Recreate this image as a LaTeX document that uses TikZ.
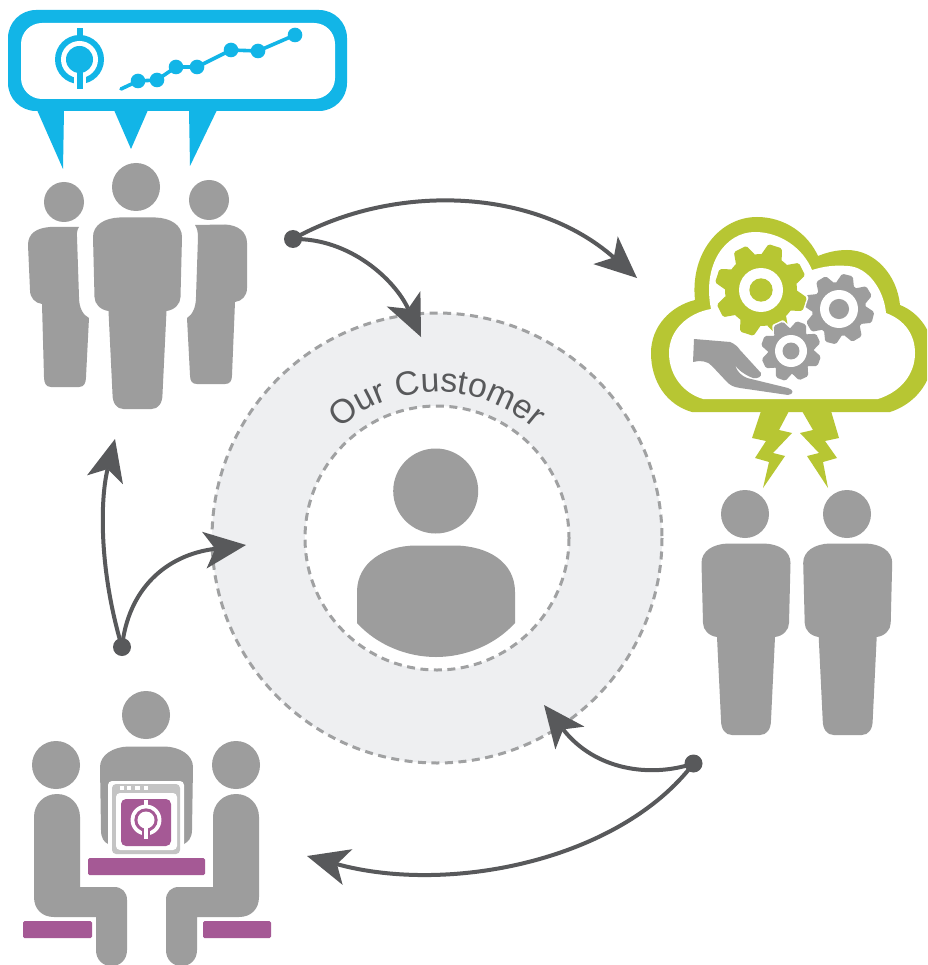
\documentclass[tikz,border=0pt]{standalone}
\usepackage{fontspec}
\usetikzlibrary{arrows.meta,decorations.text}
\newfontfamily\ocfont{Liberation Sans}
\definecolor{figgray}{HTML}{9D9D9D}
\definecolor{skyb}{HTML}{12B5E7}
\definecolor{olivec}{HTML}{B7C633}
\definecolor{purp}{HTML}{A55995}
\definecolor{ringfill}{HTML}{EEEFF1}
\definecolor{conn}{HTML}{58595B}
\definecolor{dashg}{HTML}{A0A1A2}
\definecolor{lightg}{HTML}{C4C4C4}
\tikzset{
  connector/.style={color=conn,draw=conn,line width=4pt,-{Stealth[length=42pt,width=37pt,inset=11pt,line width=0pt,fill=conn]}},
  dotnode/.style={circle,fill=conn,inner sep=0pt,minimum size=18pt},
  ringline/.style={draw=dashg,line width=3pt,dash pattern=on 8pt off 5.5pt},
  figure/.style={fill=figgray}
}
% standing person: cx, top of the body
\newcommand{\standperson}[2]{%
  \fill[figure,shift={(#1,#2)}] (-44.5,20) .. controls (-44.5,8) and (-33,1) .. (-18,.5)
    -- (18,.5) .. controls (33,1) and (44.5,8) .. (44.5,20)
    -- (43,80) .. controls (43,87) and (37,93) .. (29,94)
    -- (25,177) .. controls (25,186) and (21,192) .. (14,192)
    -- (-14,192) .. controls (-21,192) and (-25,186) .. (-25,177)
    -- (-29,94) .. controls (-37,93) and (-43,87) .. (-43,80) -- cycle;}
% gear: cx, cy, tip radius, root radius, tip half width, rotation, colour, halo, ring radius
\newcommand{\cogwheel}[9]{%
  \begin{scope}[shift={(#1,#2)}]
    \foreach \a in {0,45,...,315}{
      \filldraw[draw=white,line width=#8,fill=white,rotate=-#6-\a,line join=round]
        (-#5-4,-#4+3) -- (-#5,-#3) -- (#5,-#3) -- (#5+4,-#4+3) -- cycle;}
    \filldraw[draw=white,line width=#8,fill=white] (0,0) circle[radius=#4];
    \foreach \a in {0,45,...,315}{
      \fill[#7,rotate=-#6-\a,rounded corners=1.6pt]
        (-#5-4,-#4+3) -- (-#5,-#3) -- (#5,-#3) -- (#5+4,-#4+3) -- cycle;}
    \fill[#7] (0,0) circle[radius=#4];
    \fill[white] (0,0) circle[radius=#9];
    \fill[#7] (0,0) circle[radius=#9*0.53];
  \end{scope}}
% mark: cx, cy, scale, foreground, background
\newcommand{\ringmark}[5]{%
  \begin{scope}[shift={(#1,#2)},scale=#3]
    \fill[#4] (0,0) circle[radius=24.5];
    \fill[#5] (0,0) circle[radius=18.5];
    \fill[#5] (-6,5) rectangle (6,26);
    \fill[#4] (0,0) circle[radius=13.5];
    \fill[#4] (-3,0) rectangle (3,29.5);
    \fill[#4] (-3,-31.5) rectangle (3,-22);
  \end{scope}}
\begin{document}
\begin{tikzpicture}[x=1pt,y=-1pt]
\clip (0,0) rectangle (927,965);
\fill[white] (0,0) rectangle (927,965);

% ring
\fill[ringfill] (437,538) circle[radius=225];
\draw[ringline] (437,538) circle[radius=225];
\fill[white] (437,538) circle[radius=132];
\draw[ringline] (437,538) circle[radius=132];
\path[draw=none,decorate,decoration={text along path,text align=center,
  text color=conn,text={|\ocfont\fontsize{33.8}{34}\selectfont|Our Customer}}]
  (437,538) ++(-135:146) arc[start angle=-135,end angle=-45,radius=146];

% customer
\fill[figure] (435.7,491) circle[radius=42.5];
\fill[figure] (357,623) -- (357,592) .. controls (357,562) and (385,546) .. (415,545.5)
  -- (455,545.5) .. controls (488,546) and (515,562) .. (515,592) -- (515,623)
  .. controls (495,645) and (465,657) .. (436,657) .. controls (407,657) and (377,645) .. (357,623) -- cycle;

% bubble
\fill[skyb,rounded corners=28pt] (8,10) rectangle (347,111);
\fill[skyb] (37,110) -- (63,169) -- (64,110) -- cycle;
\fill[skyb] (114,110) -- (131,149) -- (148,110) -- cycle;
\fill[skyb] (189,110) -- (190,166) -- (217,110) -- cycle;
\fill[white,rounded corners=21pt] (21,23) rectangle (335,99);
\ringmark{79.5}{59.5}{1}{skyb}{white}
\draw[skyb,line width=3.6pt,line cap=round,line join=round]
  (121,89) -- (138,81) -- (157,80) -- (176,67) -- (197,67) -- (231,50) -- (258,51) -- (295,35);
\foreach \p in {(138,81),(157,80),(176,67),(197,67),(231,50),(258,51),(295,35)}
  \fill[skyb] \p circle[radius=7.3];

% trio
\fill[figure] (64,202) circle[radius=20];
\fill[figure] (136,187) circle[radius=24];
\fill[figure] (209,200) circle[radius=20];
\fill[figure] (79,227) .. controls (77,230) and (76.5,234) .. (77,237) -- (79,297)
  .. controls (79,308) and (83,315) .. (89,318) -- (86,377) .. controls (86,383) and (84,387) .. (79,387)
  -- (51,387) .. controls (46,387) and (44,383) .. (44,377) -- (42,304)
  .. controls (35,303) and (30,298) .. (30,290) -- (28,245) .. controls (28,233) and (37,228) .. (50,227) -- cycle;
\fill[figure] (195,225) .. controls (197,228) and (198,232) .. (198,237) -- (196,297)
  .. controls (196,308) and (192,315) .. (187,318) -- (190,375) .. controls (190,381) and (192,384) .. (197,384)
  -- (225,384) .. controls (230,384) and (232,381) .. (232,375) -- (235,302)
  .. controls (242,301) and (247,296) .. (247,288) -- (247,243) .. controls (247,232) and (238,225) .. (225,224.5) -- cycle;
\standperson{137.5}{217}

% pair
\fill[figure] (745,514) circle[radius=24];
\fill[figure] (847,514) circle[radius=24];
\standperson{746}{543}
\standperson{847.7}{543}

% cloud
\fill[olivec] (692,412) .. controls (667,405) and (651,382) .. (651,353)
  .. controls (651,326) and (671,306) .. (695,300)
  .. controls (690,253) and (720,217) .. (757,217)
  .. controls (785,217) and (808,234) .. (818,256)
  .. controls (828,252) and (837,250) .. (847,250)
  .. controls (875,250) and (897,275) .. (900,305)
  .. controls (920,313) and (933,333) .. (933,353)
  .. controls (933,385) and (912,405) .. (890,412) -- cycle;
\fill[white] (703,399) .. controls (683,393) and (669,375) .. (669,353)
  .. controls (669,330) and (688,313) .. (711,309)
  .. controls (702,265) and (725,232) .. (755,232)
  .. controls (780,232) and (803,248) .. (812,270)
  .. controls (825,266) and (835,265) .. (848,266)
  .. controls (868,267) and (884,290) .. (886,313)
  .. controls (905,320) and (915,335) .. (915,353)
  .. controls (915,375) and (900,392) .. (878,399) -- cycle;
\fill[olivec] (761,411) -- (752,438) -- (766,441) -- (755,458) -- (769,462) -- (763,488)
  -- (785,456) -- (773,453) -- (792,433) -- (779,430) -- (789,411) -- cycle;
\fill[olivec] (802,411) -- (813,430) -- (800,433) -- (819,453) -- (807,456) -- (828,488)
  -- (823,462) -- (837,458) -- (825,441) -- (839,438) -- (831,411) -- cycle;
\cogwheel{839}{309}{35}{27}{5.5}{14}{figgray}{0pt}{19}
\cogwheel{761}{290}{46}{36}{7}{18}{olivec}{3pt}{22}
\cogwheel{791}{351}{30}{23}{5}{20}{figgray}{3pt}{16}
\fill[figure] (694,339) -- (730,342) .. controls (735,344) and (738,347) .. (740,350)
  -- (761,373) .. controls (762,377) and (757,379) .. (753,378)
  .. controls (745,375) and (738,370) .. (735,365)
  .. controls (737,372) and (742,376) .. (747,378)
  -- (788,388) .. controls (794,390) and (794,394) .. (788,395)
  -- (740,388) .. controls (733,387) and (730,385) .. (727,382)
  -- (712,366) .. controls (708,361) and (700,360) .. (693,362) -- cycle;

% meeting
\fill[figure] (146,715) circle[radius=24];
\fill[figure] (100,767) .. controls (100,755) and (113,747) .. (128,746.5) -- (165,746.5)
  .. controls (180,747) and (193,755) .. (193,767) -- (192,830)
  .. controls (192,838) and (188,842) .. (184,844) -- (108,844)
  .. controls (104,842) and (101,838) .. (101,830) -- cycle;
\fill[white,rounded corners=4pt] (108,781) rectangle (184,855);
\fill[lightg,rounded corners=4pt] (112,784) rectangle (180,854);
\fill[white,rounded corners=4pt] (116,793) rectangle (177,850);
\fill[purp,rounded corners=5pt] (121,799) rectangle (171,846);
\foreach \bx/\bw in {120/3.5,127/4,135/5,144/3.5}
  \fill[white] (\bx,786) rectangle ++(\bw,4);
\ringmark{146}{820}{.63}{white}{purp}
\fill[purp,rounded corners=1.5pt] (88,858) rectangle (205,875);
\fill[purp,rounded corners=1.5pt] (23,921) rectangle (92,938);
\fill[purp,rounded corners=1.5pt] (203,921) rectangle (271,938);
\fill[figure] (56,765) circle[radius=24];
\fill[figure] (236,765) circle[radius=24];
\fill[figure] (34,817) .. controls (34,804) and (44,794) .. (57,794) .. controls (70,794) and (80,804) .. (80,817)
  -- (80,887) -- (114,887) .. controls (122,887) and (127,892) .. (127,900) -- (127,950)
  .. controls (127,960) and (120,966) .. (111.5,966) .. controls (103,966) and (96,960) .. (96,950)
  -- (96,917) -- (54,917) .. controls (42,917) and (34,909) .. (34,897) -- cycle;
\fill[figure] (259,817) .. controls (259,804) and (249,794) .. (236,794) .. controls (223,794) and (213,804) .. (213,817)
  -- (213,887) -- (179,887) .. controls (171,887) and (166,892) .. (166,900) -- (166,950)
  .. controls (166,960) and (173,966) .. (181.5,966) .. controls (190,966) and (197,960) .. (197,950)
  -- (197,917) -- (239,917) .. controls (251,917) and (259,909) .. (259,897) -- cycle;

% connectors
\node[dotnode] (topdot) at (293,239) {};
\node[dotnode] (leftdot) at (122,647) {};
\node[dotnode] (rightdot) at (693.5,763.5) {};
\coordinate (tipcloud) at (637,278);
\coordinate (tiptopring) at (421,337);
\coordinate (tiptrio) at (115,439);
\coordinate (tipleftring) at (246,545);
\coordinate (tipbottomring) at (544,705);
\coordinate (tipmeeting) at (307,856);
\draw[connector] (topdot.center) .. controls (395,182) and (535,188) .. (tipcloud);
\draw[connector] (topdot.center) .. controls (350,238) and (395,280) .. (tiptopring);
\draw[connector] (leftdot.center) .. controls (99,570) and (100,500) .. (tiptrio);
\draw[connector] (leftdot.center) .. controls (128,590) and (165,555) .. (tipleftring);
\draw[connector] (rightdot.center) .. controls (650,778) and (595,770) .. (tipbottomring);
\draw[connector] (rightdot.center) .. controls (620,860) and (450,895) .. (tipmeeting);
\end{tikzpicture}
\end{document}
